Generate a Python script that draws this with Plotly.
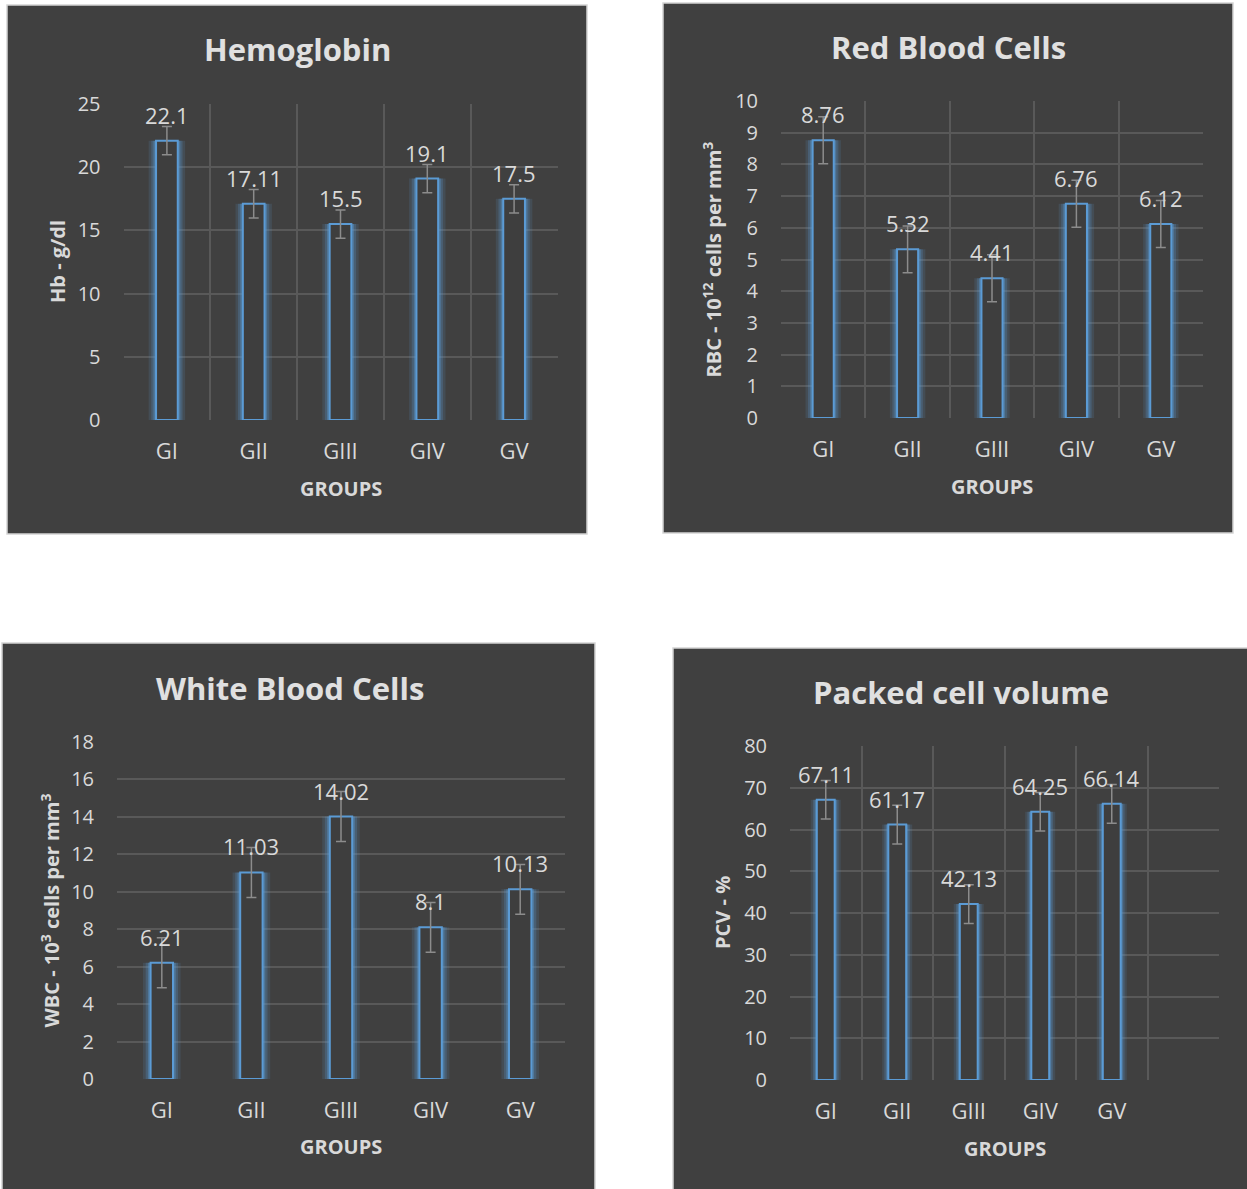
import plotly.graph_objects as go

# ---------------- data ----------------
groups = ["GI", "GII", "GIII", "GIV", "GV"]

hb_values = [22.1, 17.11, 15.5, 19.1, 17.5]
hb_errors = [1.12, 1.12, 1.12, 1.12, 1.12]

rbc_values = [8.76, 5.32, 4.41, 6.76, 6.12]
rbc_errors = [0.74, 0.74, 0.74, 0.74, 0.74]

wbc_values = [6.21, 11.03, 14.02, 8.1, 10.13]
wbc_errors = [1.33, 1.33, 1.33, 1.33, 1.33]

pcv_values = [67.11, 61.17, 42.13, 64.25, 66.14]
pcv_errors = [4.62, 4.62, 4.62, 4.62, 4.62]

x_title = "GROUPS"

# ---------------- layout helpers ----------------
W, H = 1247, 1189


def px(x):
    return x / W


def py(y):
    return 1 - y / H


FONT = "Open Sans"
TXT = "#d9d9d9"
BG = "#404040"
GRID = "#595959"
BLUE = "#5b9bd5"

panels = [
    dict(title="Hemoglobin", ytitle="Hb - g/dl", values=hb_values, errors=hb_errors,
         ymax=25, dtick=5, slots=5, vgrid=True,
         box=(7, 5, 587, 534), plot=(123.5, 104, 557.5, 420),
         title_xy=(297, 49), ytitle_x=58, xtitle_y=488),
    dict(title="Red Blood Cells", ytitle="RBC - 10<sup>12</sup> cells per mm<sup>3</sup>",
         values=rbc_values, errors=rbc_errors,
         ymax=10, dtick=1, slots=5, vgrid=True,
         box=(663, 3, 1233, 533), plot=(781, 101, 1203, 418),
         title_xy=(948, 47), ytitle_x=712, xtitle_y=486),
    dict(title="White Blood Cells", ytitle="WBC - 10<sup>3</sup> cells per mm<sup>3</sup>",
         values=wbc_values, errors=wbc_errors,
         ymax=18, dtick=2, slots=5, vgrid=False,
         box=(2, 643, 595, 1200), plot=(117, 742, 565, 1079),
         title_xy=(290, 688), ytitle_x=50, xtitle_y=1146),
    dict(title="Packed cell volume", ytitle="PCV - %", values=pcv_values, errors=pcv_errors,
         ymax=80, dtick=10, slots=6, vgrid=True,
         box=(673, 648, 1260, 1200), plot=(790, 746, 1219, 1080),
         title_xy=(961, 692), ytitle_x=722, xtitle_y=1148),
]

fig = go.Figure()
shapes = []
annotations = []
layout_axes = {}

xpos = list(range(len(groups)))

for i, p in enumerate(panels, start=1):
    xa = "x" if i == 1 else f"x{i}"
    ya = "y" if i == 1 else f"y{i}"
    x0, y0, x1, y1 = p["box"]
    shapes.append(dict(type="rect", xref="paper", yref="paper",
                       x0=px(x0), x1=px(x1), y0=py(y1), y1=py(y0),
                       fillcolor=BG, line=dict(color="#d4d4d4", width=1.5), layer="below"))

    # glow layers
    for w, a in [(0.42, 0.14), (0.36, 0.24), (0.31, 0.40)]:
        fig.add_trace(go.Bar(x=xpos, y=p["values"], width=w, xaxis=xa, yaxis=ya,
                             marker=dict(color=f"rgba(91,155,213,{a})", line=dict(width=0)),
                             hoverinfo="skip", showlegend=False))
    # main outlined bar with error bars
    fig.add_trace(go.Bar(x=xpos, y=p["values"], width=0.25, xaxis=xa, yaxis=ya,
                         marker=dict(color="#3e3e3e", line=dict(color=BLUE, width=2)),
                         error_y=dict(type="data", array=p["errors"], color="#8c8c8c",
                                      thickness=1.5, width=5),
                         showlegend=False))

    # data labels
    for xv, v in zip(xpos, p["values"]):
        annotations.append(dict(x=xv, y=v, xref=xa, yref=ya, text=f"{v:g}",
                                showarrow=False, yanchor="middle", yshift=26,
                                font=dict(family=FONT, size=22, color=TXT)))

    px0, py0, px1, py1 = p["plot"]
    axis_x = dict(domain=[px(px0), px(px1)], range=[-0.5, p["slots"] - 0.5],
                  tickmode="array", tickvals=xpos, ticktext=groups,
                  showgrid=False, zeroline=False, showline=False,
                  ticks="outside", ticklen=12, tickcolor="rgba(0,0,0,0)",
                  tickfont=dict(family=FONT, size=22, color=TXT),
                  anchor=ya, fixedrange=True, automargin=False)
    if p["vgrid"]:
        axis_x["minor"] = dict(tickmode="linear", tick0=0.5, dtick=1, showgrid=True,
                               gridcolor=GRID, gridwidth=1.5, ticks="")
    axis_y = dict(domain=[py(py1), py(py0)], range=[0, p["ymax"]], dtick=p["dtick"],
                  showgrid=True, gridcolor=GRID, gridwidth=1.5, zeroline=False, showline=False,
                  ticks="outside", ticklen=18, tickcolor="rgba(0,0,0,0)",
                  tickfont=dict(family=FONT, size=20, color=TXT),
                  anchor=xa, fixedrange=True, automargin=False)
    layout_axes["xaxis" if i == 1 else f"xaxis{i}"] = axis_x
    layout_axes["yaxis" if i == 1 else f"yaxis{i}"] = axis_y

    tx, ty = p["title_xy"]
    annotations.append(dict(x=px(tx), y=py(ty), xref="paper", yref="paper",
                            text=f"<b>{p['title']}</b>", showarrow=False,
                            xanchor="center", yanchor="middle",
                            font=dict(family=FONT, size=31, color="#e0e0e0")))
    annotations.append(dict(x=px(p["ytitle_x"]), y=py((py0 + py1) / 2), xref="paper", yref="paper",
                            text=f"<b>{p['ytitle']}</b>", showarrow=False, textangle=-90,
                            xanchor="center", yanchor="middle",
                            font=dict(family=FONT, size=20, color=TXT)))
    annotations.append(dict(x=px((px0 + px1) / 2), y=py(p["xtitle_y"]), xref="paper", yref="paper",
                            text=f"<b>{x_title}</b>", showarrow=False,
                            xanchor="center", yanchor="middle",
                            font=dict(family=FONT, size=20, color=TXT)))

fig.update_layout(
    width=W, height=H, margin=dict(l=0, r=0, t=0, b=0, pad=0, autoexpand=False),
    paper_bgcolor="white", plot_bgcolor="rgba(0,0,0,0)",
    barmode="overlay", showlegend=False,
    shapes=shapes, annotations=annotations,
    **layout_axes,
)

fig.write_html("out.html", config={"displayModeBar": False},
               post_script="document.body.style.margin='0px';document.body.style.overflow='hidden';")
